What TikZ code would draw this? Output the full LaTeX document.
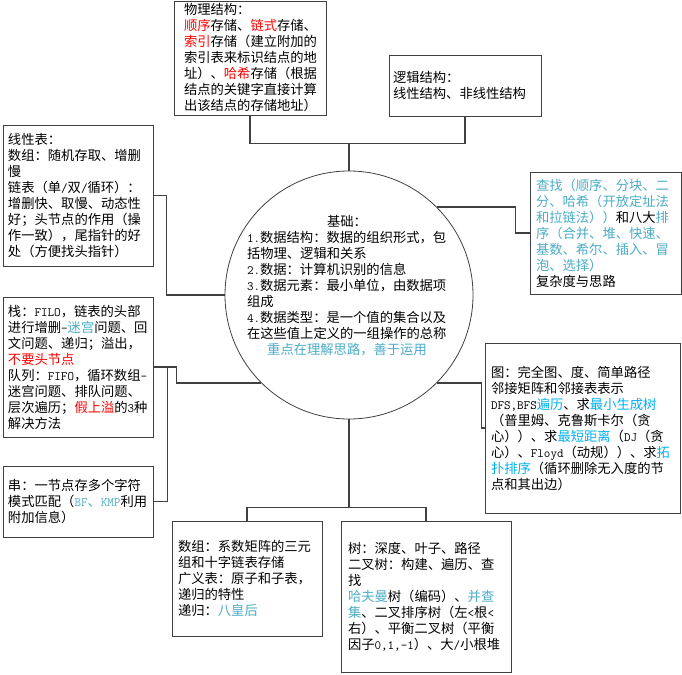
\documentclass[tikz,border=0pt]{standalone}
\usepackage{fontspec}
\setmainfont{Noto Sans CJK SC}
\usepackage{xcolor}
\usepackage{tikz}
\usetikzlibrary{positioning,calc}

\definecolor{keyred}{RGB}{255,0,0}
\definecolor{keyteal}{RGB}{75,172,198}
\definecolor{keyblue}{RGB}{0,176,240}
\definecolor{edge}{RGB}{64,64,64}
\newcommand\en[1]{{\fontsize{12.7pt}{16pt}\selectfont\ttfamily #1}}

\begin{document}
\begin{tikzpicture}[x=1pt,y=-1pt,
  note/.style={rectangle,inner sep=0pt,align=left,font=\fontsize{13.3pt}{16pt}\selectfont},
  box/.style={note,draw=edge,line width=0.8pt},
  link/.style={draw=edge,line width=1.2pt},
]
\useasboundingbox (0,0) rectangle (682,674);

% centre
\node[circle,draw=edge,line width=0.8pt,minimum size=248pt,inner sep=0pt] (base) at (349,295) {};
\node[note,text width=200pt] (basetxt) at (347,286) {\makebox[200pt]{基础：}\\
\en{1.}数据结构：数据的组织形式，包\\
括物理、逻辑和关系\\
\en{2.}数据：计算机识别的信息\\
\en{3.}数据元素：最小单位，由数据项\\
组成\\
\en{4.}数据类型：是一个值的集合以及\\
在这些值上定义的一组操作的总称\\
\makebox[200pt]{\textcolor{keyteal}{重点在理解思路，善于运用}}};

% top
\node[box,minimum width=152pt,minimum height=114pt,text width=132pt] (phys) at (250,58) {物理结构：\\
\textcolor{keyred}{顺序}存储、\textcolor{keyred}{链式}存储、\\
\textcolor{keyred}{索引}存储（建立附加的\\
索引表来标识结点的地\\
址）、\textcolor{keyred}{哈希}存储（根据\\
结点的关键字直接计算\\
出该结点的存储地址）};
\node[box,minimum width=152pt,minimum height=61pt,text width=144pt] (logic) at (465,85.5) {逻辑结构：\\
线性结构、非线性结构};

% left
\node[box,minimum width=150pt,minimum height=141pt,text width=140pt] (linear) at (78,195.5) {线性表：\\
数组：随机存取、增删\\
慢\\
链表（单\en{/}双\en{/}循环）：\\
增删快、取慢、动态性\\
好；头节点的作用（操\\
作一致），尾指针的好\\
处（方便找头指针）};
\node[box,minimum width=150pt,minimum height=140pt,text width=140pt] (stack) at (78,367) {栈：\en{FILO}，链表的头部\\
进行增删\en{-}\textcolor{keyteal}{迷宫}问题、回\\
文问题、递归；溢出，\\
\textcolor{keyred}{不要头节点}\\
队列：\en{FIFO}，循环数组\en{-}\\
迷宫问题、排队问题、\\
层次遍历；\textcolor{keyred}{假上溢}的\en{3}种\\
解决方法};
\node[box,minimum width=150pt,minimum height=71pt,text width=140pt] (str) at (78,501.5) {串：一节点存多个字符\\
模式匹配（\textcolor{keyteal}{\en{BF}、\en{KMP}}利用\\
附加信息）};

% right
\node[box,minimum width=151pt,minimum height=122pt,text width=139pt] (find) at (605.5,233) {\textcolor{keyteal}{查找（顺序、分块、二}\\
\textcolor{keyteal}{分、哈希（开放定址法}\\
\textcolor{keyteal}{和拉链法））}和八大\textcolor{keyteal}{排}\\
\textcolor{keyteal}{序（合并、堆、快速、}\\
\textcolor{keyteal}{基数、希尔、插入、冒}\\
\textcolor{keyteal}{泡、选择）}\\
复杂度与思路};
\node[box,minimum width=195pt,minimum height=170pt,text width=183pt] (graph) at (582.5,428) {图：完全图、度、简单路径\\
邻接矩阵和邻接表表示\\
\en{DFS,BFS}\textcolor{keyblue}{遍历}、求\textcolor{keyblue}{最小生成树}\\
（普里姆、克鲁斯卡尔（贪\\
心））、求\textcolor{keyblue}{最短距离}（\en{DJ}（贪\\
心）、\en{Floyd}（动规））、求\textcolor{keyblue}{拓}\\
\textcolor{keyblue}{扑排序}（循环删除无入度的节\\
点和其出边）};

% bottom
\node[box,minimum width=150pt,minimum height=115pt,text width=138pt] (arr) at (247,578.5) {数组：系数矩阵的三元\\
组和十字链表存储\\
广义表：原子和子表，\\
递归的特性\\
递归：\textcolor{keyteal}{八皇后}};
\node[box,minimum width=170pt,minimum height=151pt,text width=156pt] (tree) at (426,596.5) {树：深度、叶子、路径\\
二叉树：构建、遍历、查\\
找\\
\textcolor{keyteal}{哈夫曼}树（编码）、\textcolor{keyteal}{并查}\\
\textcolor{keyteal}{集}、二叉排序树（左\en{<}根\en{<}\\
右）、平衡二叉树（平衡\\
因子\en{0,1,-1}）、大\en{/}小根堆};

% connectors
\draw[link] (phys.south) -- ++(0,28) -| (base.north);
\draw[link] (logic.south) -- ++(0,27) -| (base.north);
\draw[link] (linear.east) -- ++(13,0) |- (base.west);
\draw[link] (stack.east) -- ++(23,0) |- (base.225);
\draw[link] (str.east) -| ([xshift=14pt]stack.east);
\draw[link] (base.45) -| ([xshift=-14pt]find.west) -- (find.west);
\draw[link] (base.-45) -| ([xshift=-3pt]graph.west) -- (graph.west);
\draw[link] (base.south) -- ++(0,88) coordinate (botj);
\draw[link] (arr.north) |- (botj) -| (tree.north);

\end{tikzpicture}
\end{document}
